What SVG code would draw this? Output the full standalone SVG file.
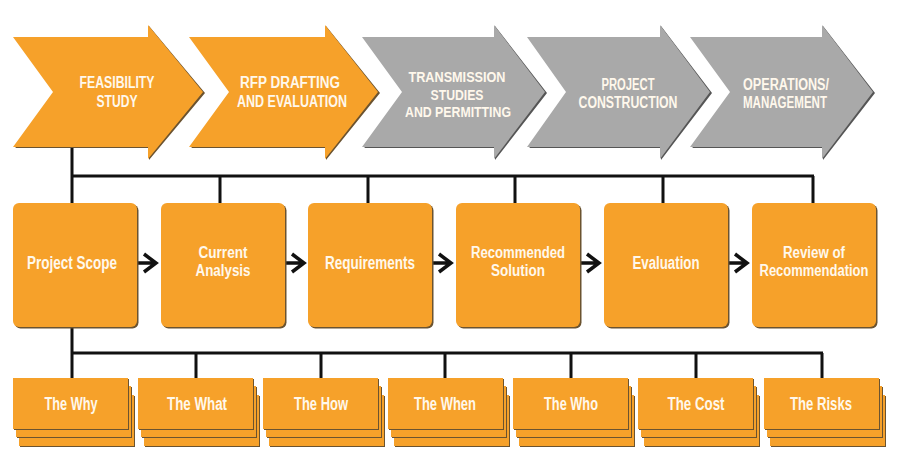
<svg xmlns="http://www.w3.org/2000/svg" xmlns:xlink="http://www.w3.org/1999/xlink" width="900" height="460" viewBox="0 0 900 460">
<style>
.o{fill:#F6A12A}
.g{fill:#A9A9A9}
.sh{fill:#6b5330}
.gsh{fill:#555555}
.t{font-family:"Liberation Sans",Arial,sans-serif;font-weight:bold;fill:#FFF8EC;text-anchor:middle}
.top{font-size:16px}
.top3{font-size:15px}
.mid{font-size:18px}
.mid2{font-size:16px}
.bot{font-size:18px}
.c{stroke:#111;stroke-width:3;fill:none}
.ar{stroke:#111;stroke-width:3.5;fill:none;stroke-linecap:butt;stroke-linejoin:miter}
</style>
<defs>
<g id="card">
<rect x="7" y="18" width="115" height="51" class="sh"/>
<rect x="6" y="17" width="115" height="51" class="o"/>
<rect x="4" y="9" width="115" height="51" class="sh"/>
<rect x="3" y="8" width="115" height="51" class="o"/>
<rect x="1" y="1" width="115" height="51" class="sh"/>
<rect x="0" y="0" width="115" height="51" class="o"/>
</g>
<g id="box">
<rect x="1.5" y="1.5" width="124" height="124" rx="6" class="sh"/>
<rect x="0" y="0" width="124" height="124" rx="6" class="o"/>
</g>
</defs>
<rect width="900" height="460" fill="#fff"/>

<g id="connectors">
<path class="c" d="M72 147V203M72 176H814M220 176V203M368 176V203M515 176V203M663 176V203M813 176V203"/>
<path class="c" d="M72 327V378M72 353H823M196 353V378M321 353V378M445 353V378M571 353V378M696 353V378M822 353V378"/>
<path class="ar" d="M137 263H155M144 254L156 263L144 272"/>
<path class="ar" d="M285 263H303M292 254L304 263L292 272"/>
<path class="ar" d="M432 263H450M439 254L451 263L439 272"/>
<path class="ar" d="M580 263H598M587 254L599 263L587 272"/>
<path class="ar" d="M728 263H746M735 254L747 263L735 272"/>
</g>

<g id="phase1">
<polygon class="sh" points="149,38 149,26 205,93 149,160 149,148 15,148"/>
<polygon class="o" points="13,37 148,37 148,25 203,92 148,159 148,147 13,147 53,92"/>
<text class="t top" x="117" y="88" textLength="75" lengthAdjust="spacingAndGlyphs">FEASIBILITY</text>
<text class="t top" x="117" y="107" textLength="41" lengthAdjust="spacingAndGlyphs">STUDY</text>
</g>
<g id="phase2">
<polygon class="sh" points="326,38 326,26 380,93 326,160 326,148 191,148"/>
<polygon class="o" points="189,37 325,37 325,25 378,92 325,159 325,147 189,147 229,92"/>
<text class="t top" x="290" y="88" textLength="100" lengthAdjust="spacingAndGlyphs">RFP DRAFTING</text>
<text class="t top" x="292" y="107" textLength="110" lengthAdjust="spacingAndGlyphs">AND EVALUATION</text>
</g>
<g id="phase3">
<polygon class="gsh" points="495,38 495,26 547,93 495,160 495,148 364,148"/>
<polygon class="g" points="362,37 494,37 494,25 545,92 494,159 494,147 362,147 402,92"/>
<text class="t top3" x="457" y="82" textLength="97" lengthAdjust="spacingAndGlyphs">TRANSMISSION</text>
<text class="t top3" x="457" y="99.5" textLength="53" lengthAdjust="spacingAndGlyphs">STUDIES</text>
<text class="t top3" x="458" y="117" textLength="106" lengthAdjust="spacingAndGlyphs">AND PERMITTING</text>
</g>
<g id="phase4">
<polygon class="gsh" points="661,38 661,26 712,93 661,160 661,148 529,148"/>
<polygon class="g" points="527,37 660,37 660,25 710,92 660,159 660,147 527,147 566,92"/>
<text class="t top" x="628" y="90" textLength="53" lengthAdjust="spacingAndGlyphs">PROJECT</text>
<text class="t top" x="628" y="108" textLength="99" lengthAdjust="spacingAndGlyphs">CONSTRUCTION</text>
</g>
<g id="phase5">
<polygon class="gsh" points="823,38 823,26 875,93 823,160 823,148 692,148"/>
<polygon class="g" points="690,37 822,37 822,25 873,92 822,159 822,147 690,147 730,92"/>
<text class="t top" x="786" y="90" textLength="86" lengthAdjust="spacingAndGlyphs">OPERATIONS/</text>
<text class="t top" x="785" y="108" textLength="84" lengthAdjust="spacingAndGlyphs">MANAGEMENT</text>
</g>

<g id="step1"><use xlink:href="#box" x="13" y="203"/>
<text class="t mid" x="72" y="269" textLength="90" lengthAdjust="spacingAndGlyphs">Project Scope</text></g>
<g id="step2"><use xlink:href="#box" x="161" y="203"/>
<text class="t mid2" x="223" y="258" textLength="49" lengthAdjust="spacingAndGlyphs">Current</text>
<text class="t mid2" x="223" y="276" textLength="55" lengthAdjust="spacingAndGlyphs">Analysis</text></g>
<g id="step3"><use xlink:href="#box" x="308" y="203"/>
<text class="t mid" x="370" y="269" textLength="90" lengthAdjust="spacingAndGlyphs">Requirements</text></g>
<g id="step4"><use xlink:href="#box" x="456" y="203"/>
<text class="t mid2" x="518" y="258" textLength="94" lengthAdjust="spacingAndGlyphs">Recommended</text>
<text class="t mid2" x="518" y="276" textLength="54" lengthAdjust="spacingAndGlyphs">Solution</text></g>
<g id="step5"><use xlink:href="#box" x="604" y="203"/>
<text class="t mid" x="666" y="269" textLength="67" lengthAdjust="spacingAndGlyphs">Evaluation</text></g>
<g id="step6"><use xlink:href="#box" x="752" y="203"/>
<text class="t mid2" x="814" y="258" textLength="62" lengthAdjust="spacingAndGlyphs">Review of</text>
<text class="t mid2" x="814" y="276" textLength="109" lengthAdjust="spacingAndGlyphs">Recommendation</text></g>

<g id="why"><use xlink:href="#card" x="13" y="378"/>
<text class="t bot" x="71" y="410" textLength="53" lengthAdjust="spacingAndGlyphs">The Why</text></g>
<g id="what"><use xlink:href="#card" x="138" y="378"/>
<text class="t bot" x="197" y="410" textLength="60" lengthAdjust="spacingAndGlyphs">The What</text></g>
<g id="how"><use xlink:href="#card" x="263" y="378"/>
<text class="t bot" x="321" y="410" textLength="54" lengthAdjust="spacingAndGlyphs">The How</text></g>
<g id="when"><use xlink:href="#card" x="388" y="378"/>
<text class="t bot" x="445" y="410" textLength="62" lengthAdjust="spacingAndGlyphs">The When</text></g>
<g id="who"><use xlink:href="#card" x="513" y="378"/>
<text class="t bot" x="571" y="410" textLength="54" lengthAdjust="spacingAndGlyphs">The Who</text></g>
<g id="cost"><use xlink:href="#card" x="638" y="378"/>
<text class="t bot" x="696" y="410" textLength="57" lengthAdjust="spacingAndGlyphs">The Cost</text></g>
<g id="risks"><use xlink:href="#card" x="764" y="378"/>
<text class="t bot" x="821" y="410" textLength="62" lengthAdjust="spacingAndGlyphs">The Risks</text></g>
</svg>
